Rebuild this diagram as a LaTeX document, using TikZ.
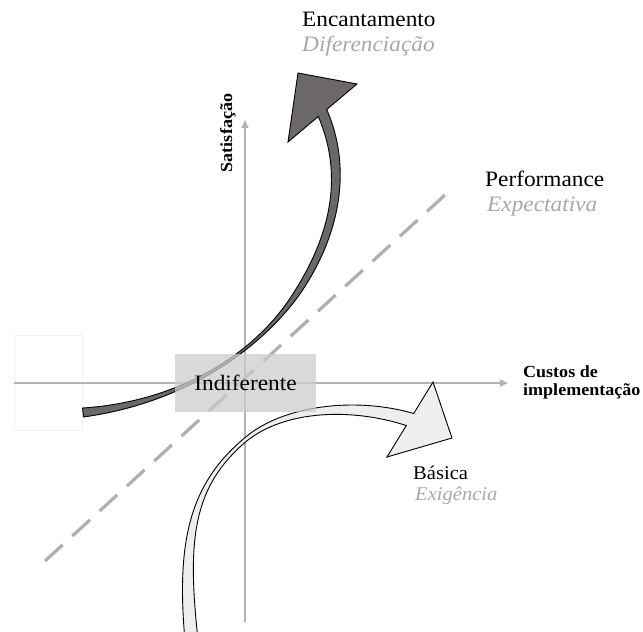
\documentclass[tikz,border=0pt]{standalone}
\usepackage{fontspec}
\setmainfont{Liberation Serif}[FakeStretch=1.06]
\usetikzlibrary{arrows.meta}

\definecolor{axisgray}{RGB}{180,180,180}
\definecolor{dashgray}{RGB}{175,175,175}
\definecolor{subgray}{RGB}{168,168,168}
\definecolor{boxgray}{RGB}{204,204,204}
\definecolor{darkband}{RGB}{108,104,105}
\definecolor{lightband}{RGB}{238,238,238}

\begin{document}
\begin{tikzpicture}[x=1pt,y=-1pt,
  axisline/.style={draw=axisgray,line width=1.2pt,-{Triangle[length=8pt,width=7pt]}},
  trend/.style={draw=dashgray,line width=3.2pt,dash pattern=on 24pt off 13pt},
  band/.style={draw=black,line width=0.9pt,line join=miter},
  lbl/.style={inner sep=0pt,anchor=base west,text=black},
  sub/.style={inner sep=0pt,anchor=base west,text=subgray},
  axlbl/.style={inner sep=0pt,font=\bfseries\fontsize{17}{19}\selectfont,align=left}]

\useasboundingbox (0,0) rectangle (643,632);

% faint frame on the left
\node[draw=black!5,line width=0.6pt,minimum width=68pt,minimum height=95pt,inner sep=0pt] (frame) at (48,382.5) {};

% axes
\coordinate (xo) at (14,383);
\coordinate (xe) at (508,383);
\coordinate (yo) at (245,622);
\coordinate (ye) at (245,120);
\draw[axisline] (xo) -- (xe);
\draw[axisline] (yo) -- (ye);

% performance trend
\coordinate (d0) at (45,561);
\coordinate (d1) at (445,195);
\draw[trend] (d0) -- (d1);

% curved arrow: Encantamento (tapered band, thinnest near the origin)
\filldraw[band,fill=darkband]
  (82.55,408.02) .. controls (182.4,401.5) and (258.25,350.94) .. (294.51,291.35)
  .. controls (334.5,228.3) and (341.44,170.4) .. (318.3,116.5)
  -- (288,142) -- (298,73) -- (357,84) -- (326.7,109.5)
  .. controls (351.56,166.0) and (341.99,233.2) .. (299.49,294.65)
  .. controls (258.75,351.27) and (182.6,403.5) .. (83.45,416.98)
  -- cycle;

% curved arrow: Basica
\filldraw[band,fill=lightband]
  (185.0,640.6) .. controls (176.0,540.5) and (190.2,483.7) .. (243.8,438.6)
  .. controls (281.3,405.5) and (354.8,396.3) .. (413.7,413.5)
  -- (433,382) -- (452,438) -- (387,457) -- (406.3,425.5)
  .. controls (351.2,407.7) and (285.1,410.0) .. (246.2,441.4)
  .. controls (192.8,486.7) and (187.0,539.5) .. (198.0,639.4)
  -- cycle;

% indifferent zone
\node[fill=boxgray,fill opacity=0.75,text opacity=1,minimum width=141pt,minimum height=58pt,inner sep=0pt,
      font=\fontsize{22}{26}\selectfont] (indif) at (245.5,382.5) {Indiferente};

% axis labels
\node[axlbl,anchor=base,rotate=90] (ylab) at (232,133) {Satisfação};
\node[axlbl,anchor=base west] (xlab1) at (523,377) {Custos de};
\node[axlbl,anchor=base west] (xlab2) at (523,395) {implementação};

% curve labels
\node[lbl,font=\fontsize{22}{26}\selectfont] (enc) at (302,26) {Encantamento};
\node[sub,font=\itshape\fontsize{22}{26}\selectfont] (dif) at (302,51) {Diferenciação};
\node[lbl,font=\fontsize{22}{26}\selectfont] (perf) at (485,186) {Performance};
\node[sub,font=\itshape\fontsize{22}{26}\selectfont] (expc) at (487,211) {Expectativa};
\node[lbl,font=\fontsize{19.4}{23}\selectfont] (bas) at (413,479) {Básica};
\node[sub,font=\itshape\fontsize{19.4}{23}\selectfont] (exig) at (415,500) {Exigência};

\end{tikzpicture}
\end{document}
